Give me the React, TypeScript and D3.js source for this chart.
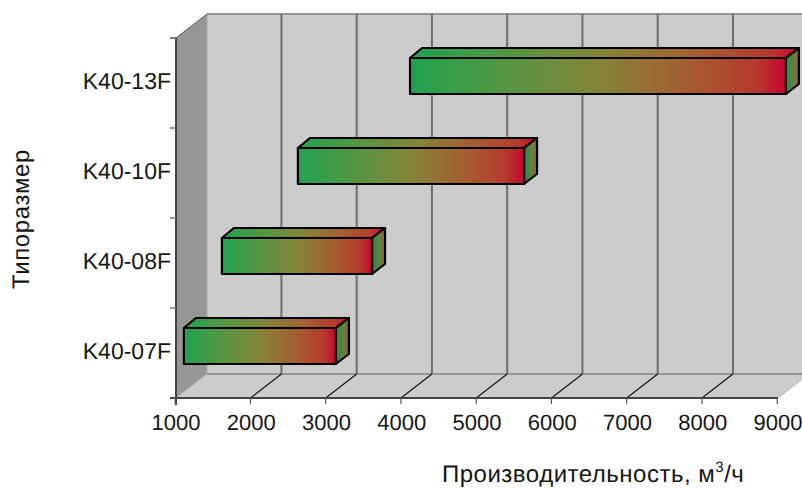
import React from "react";
import * as d3 from "d3";

const categories = ["K40-07F", "K40-08F", "K40-10F", "K40-13F"];
const rangeStart = [1105, 1610, 2620, 4110];
const rangeEnd = [3125, 3605, 5625, 9105];
const xTicks = [1000, 2000, 3000, 4000, 5000, 6000, 7000, 8000, 9000];
const xTitle = "Производительность, м";
const yTitle = "Типоразмер";

const W = 802, H = 488;
const FONT = '"Liberation Sans", Arial, sans-serif';
const DX = 31, DY = -24; // plot depth
const BDXL = 12, BDXR = 13, BDY = -10; // bar depth
const TEXT = "#161616";
const x = d3.scaleLinear().domain([1000, 9000]).range([176, 778]);
const y = d3.scaleBand().domain(categories).range([398, 38]);
const line = d3.line();
const poly = (p: [number, number][]) => line(p) + "Z";

export default function App() {
  const x0 = x(1000), x1 = x(9000);
  const yb = y.range()[0], yt = y.range()[1];
  return (
    <svg width={W} height={H} viewBox={`0 0 ${W} ${H}`} style={{ position: "absolute", left: 0, top: 0, background: "#fff" }} fontFamily={FONT} textRendering="geometricPrecision">
      <defs>
        <linearGradient id="bar" x1="0" x2="1" y1="0" y2="0">
          <stop offset="0" stopColor="#20a34f" />
          <stop offset="0.25" stopColor="#559643" />
          <stop offset="0.5" stopColor="#858439" />
          <stop offset="0.75" stopColor="#a65c31" />
          <stop offset="0.92" stopColor="#b63a2e" />
          <stop offset="1" stopColor="#c6052f" />
        </linearGradient>
        <linearGradient id="side" x1="0" x2="1" y1="0" y2="0">
          <stop offset="0" stopColor="#1f8f48" />
          <stop offset="0.6" stopColor="#6a7f3c" />
          <stop offset="1" stopColor="#9a5f33" />
        </linearGradient>
      </defs>
      {/* walls */}
      <path d={poly([[x0 + DX, yt + DY], [W + 20, yt + DY], [W + 20, yb + DY], [x0 + DX, yb + DY]])} fill="#cccccc" />
      <path d={poly([[x0, yb], [x0 + DX, yb + DY], [x0 + DX, yt + DY], [x0, yt]])} fill="#969696" />
      <path d={poly([[x0, yb], [x1, yb], [x1 + DX, yb + DY], [x0 + DX, yb + DY]])} fill="#cccccc" />
      <line x1={x0 + DX} x2={W} y1={yt + DY} y2={yt + DY} stroke="#969696" strokeWidth={2} />
      <line x1={x0 + DX} x2={W} y1={yb + DY} y2={yb + DY} stroke="#969696" strokeWidth={2} />
      <line x1={x0 + DX} x2={x0 + DX} y1={yt + DY} y2={yb + DY} stroke="#aaaaaa" strokeWidth={1} />
      <line x1={x0} x2={x0 + DX} y1={yt} y2={yt + DY} stroke="#555" strokeWidth={1} />
      <line x1={x0} x2={x0 + DX} y1={yb} y2={yb + DY} stroke="#b0b0b0" strokeWidth={1} />
      <line x1={x1} x2={x1 + DX} y1={yb} y2={yb + DY} stroke="#b8b8b8" strokeWidth={1} />
      {/* gridlines */}
      {xTicks.slice(1, -1).map((t) => (
        <g key={t}>
          <line x1={x(t) + DX - 0.8} x2={x(t) + DX - 0.8} y1={yt + DY} y2={yb + DY} stroke="#6e6e6e" strokeWidth={2} />
          <line x1={x(t) - 0.8} x2={x(t) + DX - 0.8} y1={yb} y2={yb + DY} stroke="#111" strokeWidth={1.1} />
        </g>
      ))}
      {/* axes */}
      <line x1={x0} x2={x0} y1={yt} y2={yb + 7} stroke="#444" strokeWidth={2} />
      <line x1={x0 - 6} x2={x1} y1={yb} y2={yb} stroke="#444" strokeWidth={2} />
      {xTicks.map((t) => (
        <g key={t}>
          <line x1={x(t) - 0.8} x2={x(t) - 0.8} y1={yb} y2={yb + 6} stroke="#555" strokeWidth={1.2} />
          <text x={x(t)} y={yb + 32} fontSize={22} textAnchor="middle" fill={TEXT}>{t}</text>
        </g>
      ))}
      {[...categories.map((c) => y(c)!), yt].map((v, i) => (
        <line key={i} x1={x0 - 6} x2={x0} y1={v} y2={v} stroke="#777" strokeWidth={1.5} />
      ))}
      {categories.map((c) => (
        <text key={c} x={171} y={y(c)! + y.bandwidth() / 2 + 6} fontSize={23} textAnchor="end" fill={TEXT}>{c}</text>
      ))}
      {/* bars */}
      {categories.map((c, i) => {
        const a = x(rangeStart[i]), b = x(rangeEnd[i]);
        const top = y(c)! + y.bandwidth() - 70, bot = top + 36;
        return (
          <g key={c} stroke="#000" strokeWidth={2.2} strokeLinejoin="round">
            <path d={poly([[a, top], [b, top], [b + BDXR, top + BDY], [a + BDXL, top + BDY]])} fill="url(#bar)" />
            <path d={poly([[b, top], [b + BDXR, top + BDY], [b + BDXR, bot + BDY], [b, bot]])} fill="url(#side)" />
            <rect x={a} y={top} width={b - a} height={bot - top} fill="url(#bar)" />
          </g>
        );
      })}
      {/* titles */}
      <text x={442} y={482} fontSize={24} letterSpacing={0.5} fill={TEXT}>
        {xTitle}
        <tspan dy={-10} fontSize={15}>3</tspan>
        <tspan dy={10}>/ч</tspan>
      </text>
      <text transform="translate(29,219) rotate(-90)" fontSize={24} letterSpacing={0.6} textAnchor="middle" fill={TEXT}>{yTitle}</text>
    </svg>
  );
}
